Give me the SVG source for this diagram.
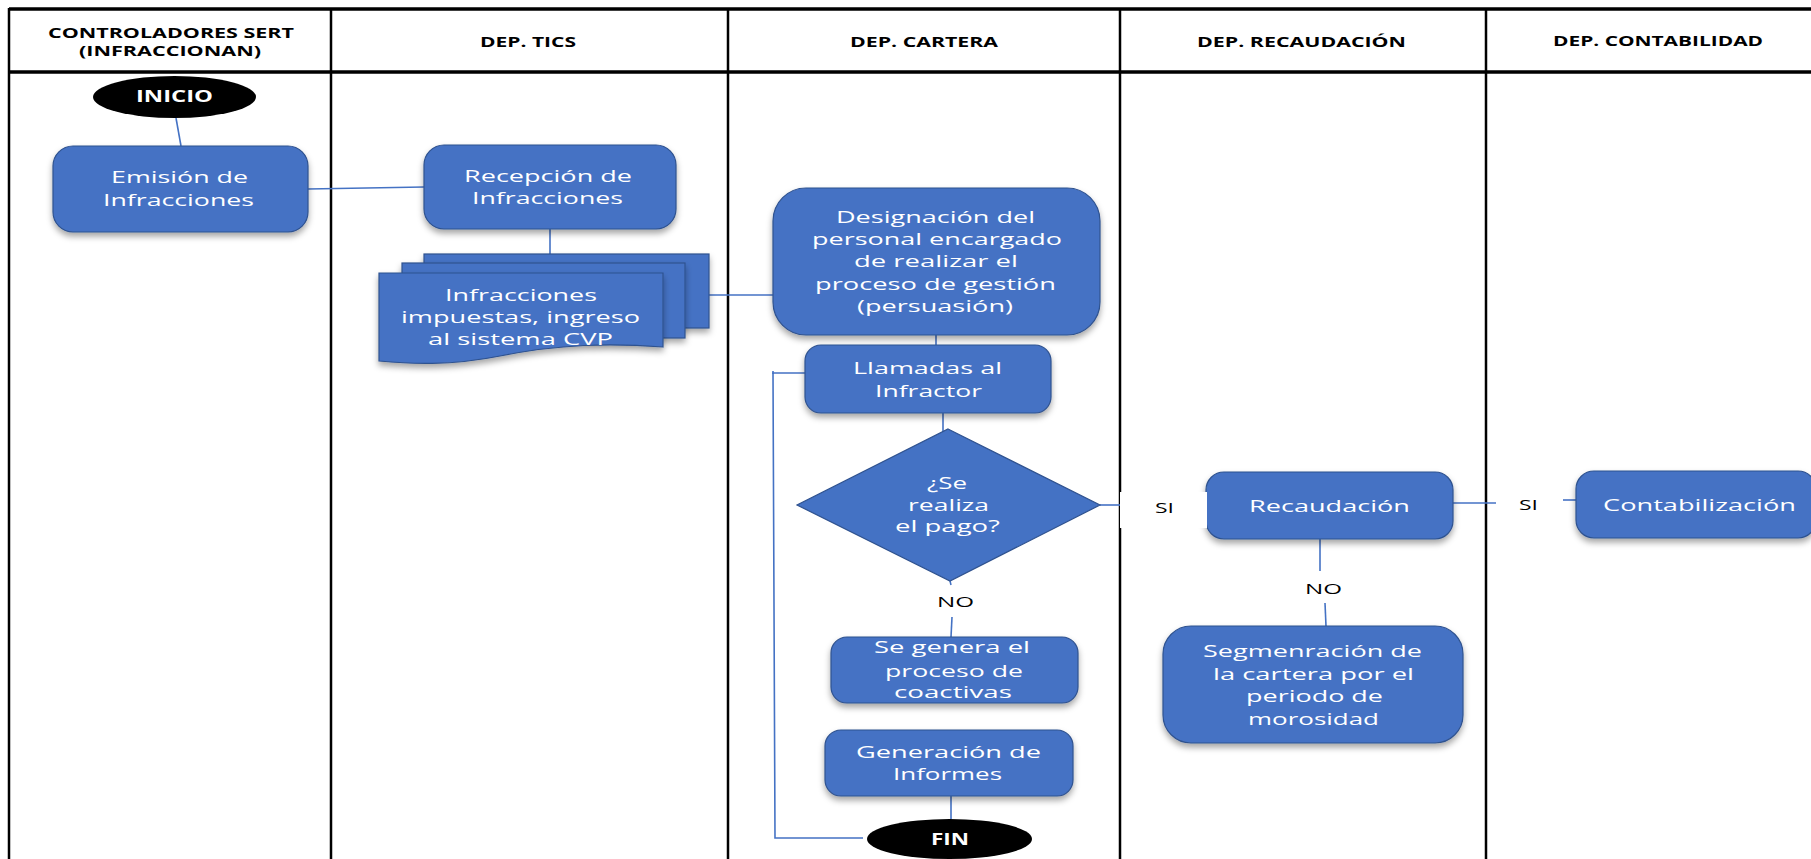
<svg xmlns="http://www.w3.org/2000/svg" width="1811" height="859" viewBox="0 0 1811 859">
<defs>
<filter id="sh" x="-10%" y="-10%" width="120%" height="140%">
<feDropShadow dx="0" dy="4" stdDeviation="3" flood-color="#000" flood-opacity="0.35"/>
</filter>
<style>
.box{fill:#4472C4;stroke:#2F528F;stroke-width:1.2;filter:url(#sh)}
.term{fill:#000}
.lane{stroke:#000;stroke-width:2.5;fill:none}
.hl{stroke:#000;stroke-width:3.5;fill:none}
.con{stroke:#4472C4;stroke-width:1.6;fill:none}
.t{font-family:"Open Sans","Liberation Sans",sans-serif;font-size:17px;fill:#fff}
.h{font-family:"Open Sans","Liberation Sans",sans-serif;font-size:13.5px;font-weight:bold;fill:#000}
.b{font-family:"Open Sans","Liberation Sans",sans-serif;font-size:16px;font-weight:bold;fill:#fff}
.l{font-family:"Open Sans","Liberation Sans",sans-serif;font-size:15px;fill:#000}
</style>
</defs>
<rect width="1811" height="859" fill="#fff"/>

<g id="lanes">
<line class="hl" x1="9" y1="9" x2="1811" y2="9"/>
<line class="hl" x1="9" y1="72" x2="1811" y2="72"/>
<line class="lane" x1="9" y1="8" x2="9" y2="859"/>
<line class="lane" x1="331" y1="8" x2="331" y2="859"/>
<line class="lane" x1="728" y1="8" x2="728" y2="859"/>
<line class="lane" x1="1120" y1="8" x2="1120" y2="859"/>
<line class="lane" x1="1486" y1="8" x2="1486" y2="859"/>
<text class="h" x="48" y="38" textLength="246" lengthAdjust="spacingAndGlyphs">CONTROLADORES SERT</text>
<text class="h" x="79" y="56" textLength="182" lengthAdjust="spacingAndGlyphs">(INFRACCIONAN)</text>
<text class="h" x="480" y="47" textLength="96" lengthAdjust="spacingAndGlyphs">DEP. TICS</text>
<text class="h" x="850" y="47" textLength="148" lengthAdjust="spacingAndGlyphs">DEP. CARTERA</text>
<text class="h" x="1197" y="47" textLength="209" lengthAdjust="spacingAndGlyphs">DEP. RECAUDACIÓN</text>
<text class="h" x="1553" y="46" textLength="210" lengthAdjust="spacingAndGlyphs">DEP. CONTABILIDAD</text>
</g>

<g id="connectors">
<line class="con" x1="176" y1="118" x2="181" y2="146"/>
<line class="con" x1="308" y1="189" x2="424" y2="187"/>
<line class="con" x1="550" y1="229" x2="550" y2="254"/>
<line class="con" x1="709" y1="295" x2="773" y2="295"/>
<line class="con" x1="936" y1="335" x2="936" y2="345"/>
<line class="con" x1="943" y1="413" x2="943" y2="432"/>
<polyline class="con" points="805,373 773,373 775,838 863,838"/>
<line class="con" x1="773" y1="371" x2="773" y2="374"/>
<line class="con" x1="1100" y1="505" x2="1120" y2="505"/>
<line class="con" x1="1453" y1="503" x2="1496" y2="503"/>
<line class="con" x1="1563" y1="500" x2="1577" y2="500"/>
<line class="con" x1="1320" y1="539" x2="1320" y2="571"/>
<line class="con" x1="1325" y1="603" x2="1326" y2="626"/>
<line class="con" x1="950" y1="581" x2="951" y2="585"/>
<line class="con" x1="952" y1="617" x2="951" y2="637"/>
<line class="con" x1="951" y1="796" x2="951" y2="819"/>
</g>

<g id="inicio">
<ellipse class="term" cx="174.5" cy="97" rx="81.5" ry="21"/>
<text class="b" x="136" y="102" textLength="77" lengthAdjust="spacingAndGlyphs">INICIO</text>
</g>

<g id="emision">
<rect class="box" x="53" y="146" width="255" height="86" rx="20"/>
<text class="t" x="111" y="183" textLength="137" lengthAdjust="spacingAndGlyphs">Emisión de</text>
<text class="t" x="103" y="206" textLength="151" lengthAdjust="spacingAndGlyphs">Infracciones</text>
</g>

<g id="recepcion">
<rect class="box" x="424" y="145" width="252" height="84" rx="20"/>
<text class="t" x="464" y="182" textLength="168" lengthAdjust="spacingAndGlyphs">Recepción de</text>
<text class="t" x="472" y="204" textLength="151" lengthAdjust="spacingAndGlyphs">Infracciones</text>
</g>

<g id="documentos">
<rect class="box" x="424" y="254" width="285" height="74"/>
<rect class="box" x="402" y="263" width="283" height="75"/>
<path class="box" d="M379,273 H663 V347 C610,343 560,344 500,356 C450,366 410,364 379,361 Z"/>
<text class="t" x="445" y="301" textLength="152" lengthAdjust="spacingAndGlyphs">Infracciones</text>
<text class="t" x="401" y="323" textLength="239" lengthAdjust="spacingAndGlyphs">impuestas, ingreso</text>
<text class="t" x="428" y="345" textLength="185" lengthAdjust="spacingAndGlyphs">al sistema CVP</text>
</g>

<g id="designacion">
<rect class="box" x="773" y="188" width="327" height="147" rx="33"/>
<text class="t" x="836" y="223" textLength="199" lengthAdjust="spacingAndGlyphs">Designación del</text>
<text class="t" x="812" y="245" textLength="250" lengthAdjust="spacingAndGlyphs">personal encargado</text>
<text class="t" x="854" y="267" textLength="164" lengthAdjust="spacingAndGlyphs">de realizar el</text>
<text class="t" x="815" y="290" textLength="241" lengthAdjust="spacingAndGlyphs">proceso de gestión</text>
<text class="t" x="857" y="312" textLength="156" lengthAdjust="spacingAndGlyphs">(persuasión)</text>
</g>

<g id="llamadas">
<rect class="box" x="805" y="345" width="246" height="68" rx="16"/>
<text class="t" x="853" y="374" textLength="149" lengthAdjust="spacingAndGlyphs">Llamadas al</text>
<text class="t" x="875" y="397" textLength="107" lengthAdjust="spacingAndGlyphs">Infractor</text>
</g>

<g id="decision">
<polygon points="948,429 1100,505 950,581 797,505" fill="#4472C4" stroke="#2F528F" stroke-width="1.2"/>
<text class="t" x="927" y="489" textLength="40" lengthAdjust="spacingAndGlyphs">¿Se</text>
<text class="t" x="908" y="511" textLength="81" lengthAdjust="spacingAndGlyphs">realiza</text>
<text class="t" x="895" y="532" textLength="105" lengthAdjust="spacingAndGlyphs">el pago?</text>
</g>

<g id="recaudacion">
<rect class="box" x="1206" y="472" width="247" height="67" rx="18"/>
<text class="t" x="1249" y="512" textLength="161" lengthAdjust="spacingAndGlyphs">Recaudación</text>
</g>

<g id="label-si-1">
<rect x="1120" y="492" width="87" height="36" fill="#fff"/>
<text class="l" x="1155" y="513" textLength="19" lengthAdjust="spacingAndGlyphs">SI</text>
</g>

<g id="label-si-2">
<text class="l" x="1519" y="510" textLength="19" lengthAdjust="spacingAndGlyphs">SI</text>
</g>

<g id="contabilizacion">
<rect class="box" x="1576" y="471" width="240" height="67" rx="18"/>
<text class="t" x="1603" y="511" textLength="193" lengthAdjust="spacingAndGlyphs">Contabilización</text>
</g>

<g id="label-no-1">
<text class="l" x="1305" y="594" textLength="37" lengthAdjust="spacingAndGlyphs">NO</text>
</g>

<g id="segmentacion">
<rect class="box" x="1163" y="626" width="300" height="117" rx="28"/>
<text class="t" x="1203" y="657" textLength="219" lengthAdjust="spacingAndGlyphs">Segmenración de</text>
<text class="t" x="1213" y="680" textLength="201" lengthAdjust="spacingAndGlyphs">la cartera por el</text>
<text class="t" x="1246" y="702" textLength="137" lengthAdjust="spacingAndGlyphs">periodo de</text>
<text class="t" x="1248" y="725" textLength="131" lengthAdjust="spacingAndGlyphs">morosidad</text>
</g>

<g id="label-no-2">
<text class="l" x="937" y="607" textLength="37" lengthAdjust="spacingAndGlyphs">NO</text>
</g>

<g id="coactivas">
<rect class="box" x="831" y="637" width="247" height="66" rx="16"/>
<text class="t" x="874" y="653" textLength="156" lengthAdjust="spacingAndGlyphs">Se genera el</text>
<text class="t" x="885" y="677" textLength="138" lengthAdjust="spacingAndGlyphs">proceso de</text>
<text class="t" x="894" y="698" textLength="118" lengthAdjust="spacingAndGlyphs">coactivas</text>
</g>

<g id="informes">
<rect class="box" x="825" y="730" width="248" height="66" rx="16"/>
<text class="t" x="856" y="758" textLength="185" lengthAdjust="spacingAndGlyphs">Generación de</text>
<text class="t" x="893" y="780" textLength="109" lengthAdjust="spacingAndGlyphs">Informes</text>
</g>

<g id="fin">
<ellipse class="term" cx="949.5" cy="839" rx="82.5" ry="20"/>
<text class="b" x="931" y="845" textLength="38" lengthAdjust="spacingAndGlyphs">FIN</text>
</g>
</svg>
